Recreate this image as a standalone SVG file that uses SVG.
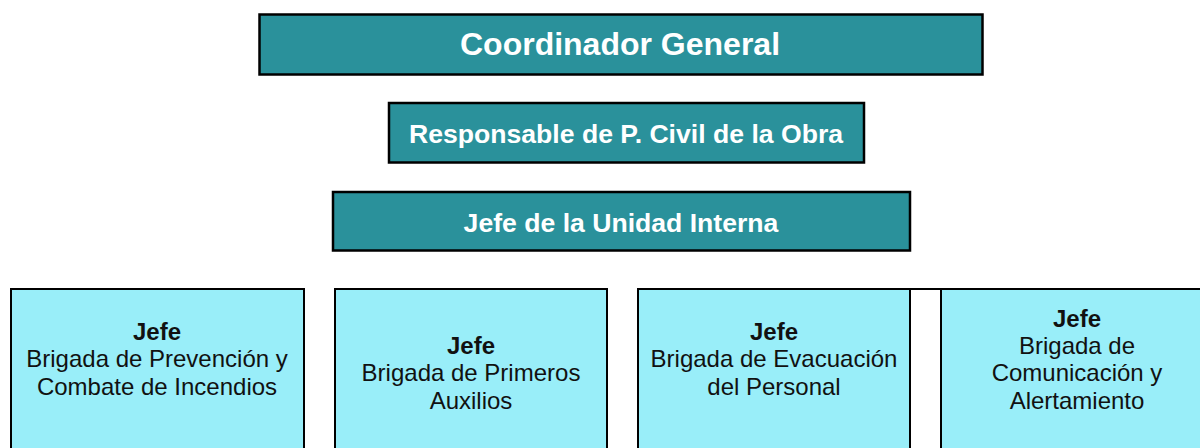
<svg xmlns="http://www.w3.org/2000/svg" width="1200" height="448" viewBox="0 0 1200 448">
<style>
.top{fill:#2A919B;stroke:#000;stroke-width:2.5}
.bot{fill:#99EEF9;stroke:#000;stroke-width:2}
.tt{font-family:"Liberation Sans",Arial,sans-serif;font-weight:bold;fill:#fff;text-anchor:middle}
.bt{font-family:"Liberation Sans",Arial,sans-serif;font-size:24px;fill:#111;text-anchor:middle}
.b{font-weight:bold}
</style>
<rect width="1200" height="448" fill="#fff"/>
<g id="coordinador">
<rect class="top" x="259.5" y="14.5" width="723" height="60"/>
<text class="tt" x="620" y="55" font-size="32">Coordinador General</text>
</g>
<g id="responsable">
<rect class="top" x="389" y="103" width="475" height="59.5"/>
<text class="tt" x="626" y="143" font-size="26.6">Responsable de P. Civil de la Obra</text>
</g>
<g id="jefe-unidad">
<rect class="top" x="333" y="192" width="577" height="58.5"/>
<text class="tt" x="621" y="232" font-size="26.6">Jefe de la Unidad Interna</text>
</g>
<g id="connectors">
<line x1="910" y1="289" x2="941" y2="289" stroke="#000" stroke-width="2"/>
</g>
<g id="brigada-incendios">
<rect class="bot" x="11" y="289" width="293" height="170"/>
<text class="bt"><tspan class="b" x="157" y="340">Jefe</tspan><tspan x="157" y="367">Brigada de Prevención y</tspan><tspan x="157" y="395">Combate de Incendios</tspan></text>
</g>
<g id="brigada-auxilios">
<rect class="bot" x="335" y="289" width="272" height="170"/>
<text class="bt"><tspan class="b" x="471" y="354">Jefe</tspan><tspan x="471" y="381">Brigada de Primeros</tspan><tspan x="471" y="409">Auxilios</tspan></text>
</g>
<g id="brigada-evacuacion">
<rect class="bot" x="638" y="289" width="272" height="170"/>
<text class="bt"><tspan class="b" x="774" y="340">Jefe</tspan><tspan x="774" y="367">Brigada de Evacuación</tspan><tspan x="774" y="395">del Personal</tspan></text>
</g>
<g id="brigada-comunicacion">
<rect class="bot" x="941" y="289" width="272" height="170"/>
<text class="bt"><tspan class="b" x="1077" y="327">Jefe</tspan><tspan x="1077" y="354">Brigada de</tspan><tspan x="1077" y="381">Comunicación y</tspan><tspan x="1077" y="409">Alertamiento</tspan></text>
</g>
</svg>
